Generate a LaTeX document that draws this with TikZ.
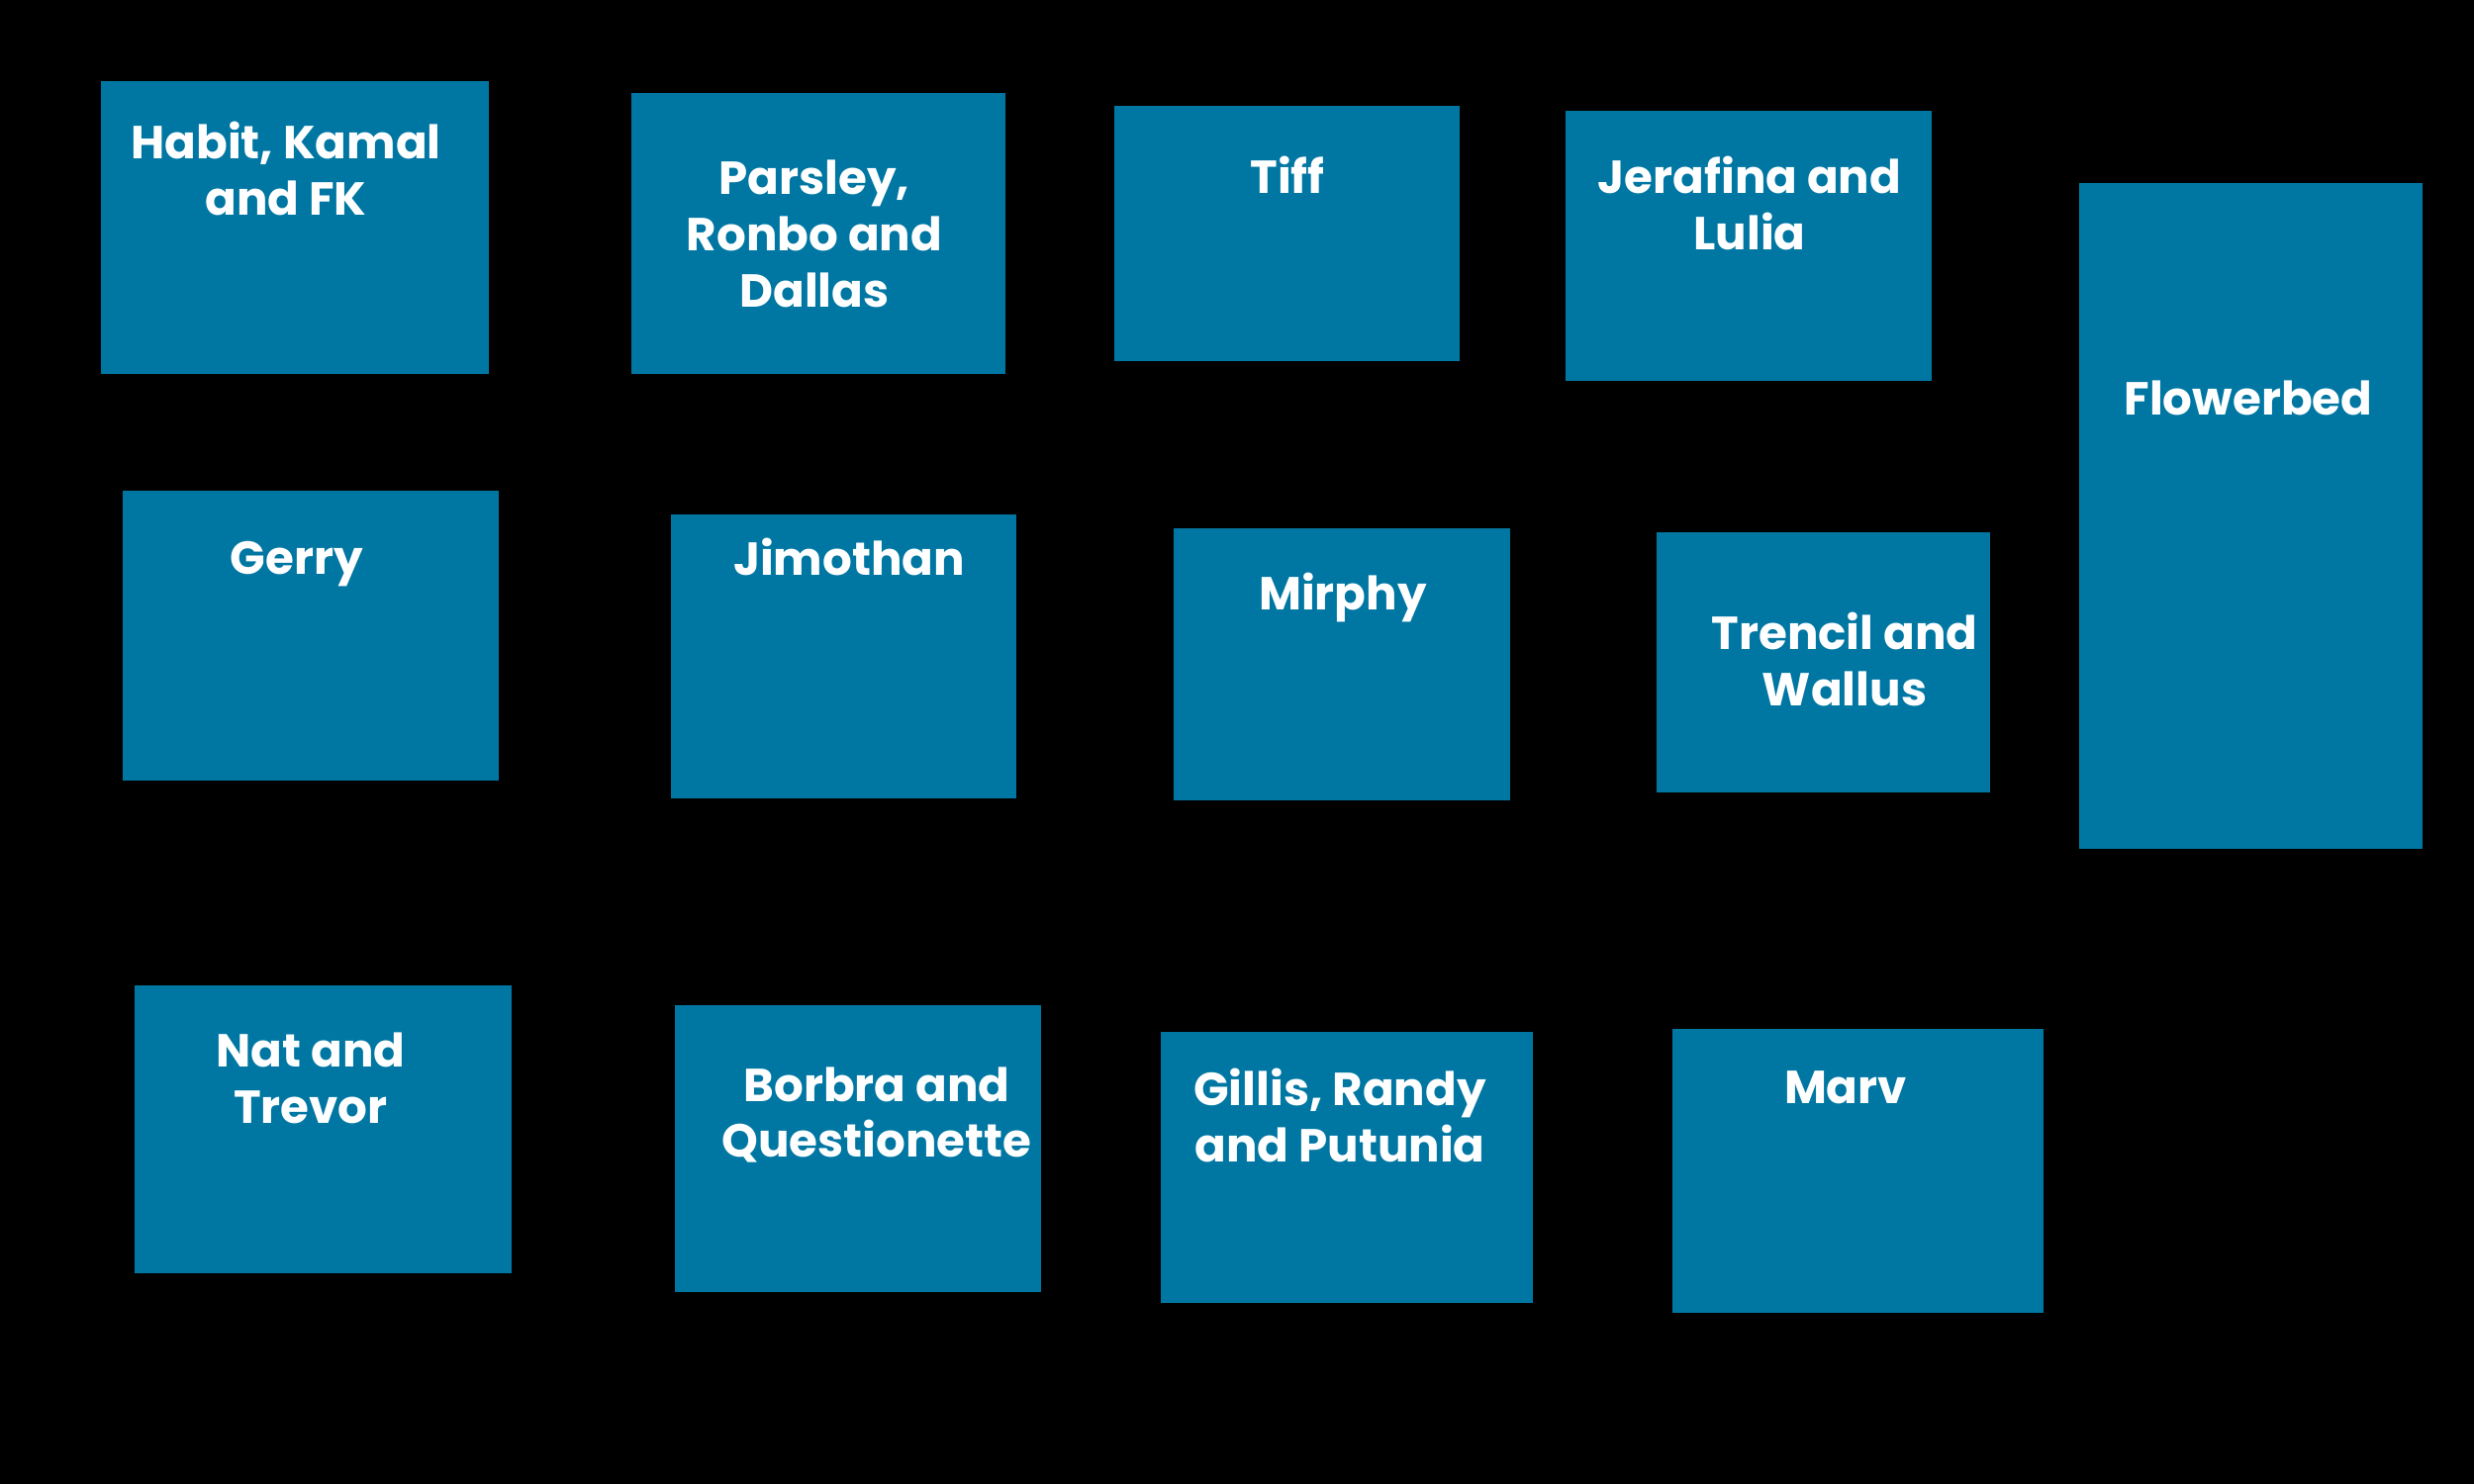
\documentclass[tikz,border=0pt]{standalone}
\usepackage{fontspec}
\setmainfont{Poppins}
\begin{document}
\begin{tikzpicture}[x=0.01cm,y=-0.01cm,
  plot/.style={fill=bedblue, draw=none, inner sep=0pt, outer sep=0pt},
  tag/.style={text=white, font=\fontsize{13.3}{16.2}\selectfont\bfseries, align=center, inner sep=0pt}]
\definecolor{bedblue}{RGB}{0,119,163}
% black ground, 2500 x 1500 units
\fill[black] (0,0) rectangle (2500,1500);
\useasboundingbox (0,0) rectangle (2500,1500);

% plots: row one
\node[plot, minimum width=3.92cm, minimum height=2.96cm] (habit) at (298,230) {};
\node[plot, minimum width=3.78cm, minimum height=2.84cm] (parsley) at (827,236) {};
\node[plot, minimum width=3.49cm, minimum height=2.58cm] (tiff) at (1300.5,236) {};
\node[plot, minimum width=3.70cm, minimum height=2.73cm] (jerafina) at (1767,248.5) {};
\node[plot, minimum width=3.47cm, minimum height=6.73cm] (flowerbed) at (2274.5,521.5) {};
% row two
\node[plot, minimum width=3.80cm, minimum height=2.93cm] (gerry) at (314,642.5) {};
\node[plot, minimum width=3.49cm, minimum height=2.87cm] (jimothan) at (852.5,663.5) {};
\node[plot, minimum width=3.40cm, minimum height=2.75cm] (mirphy) at (1356,671.5) {};
\node[plot, minimum width=3.37cm, minimum height=2.63cm] (trencil) at (1842.5,669.5) {};
% row three
\node[plot, minimum width=3.81cm, minimum height=2.91cm] (nat) at (326.5,1141.5) {};
\node[plot, minimum width=3.70cm, minimum height=2.90cm] (borbra) at (867,1161) {};
\node[plot, minimum width=3.76cm, minimum height=2.74cm] (gillis) at (1361,1180) {};
\node[plot, minimum width=3.75cm, minimum height=2.87cm] (marv) at (1877.5,1183.5) {};

% names
\node[tag] (habitT) at (289,170) {Habit, Kamal\\and FK};
\node[tag] (parsleyT) at (823,236) {Parsley,\\Ronbo and\\Dallas};
\node[tag] (tiffT) at (1301,177) {Tiff};
\node[tag] (jerafinaT) at (1768,205) {Jerafina and\\Lulia};
\node[tag] (flowerbedT) at (2272,402) {Flowerbed};
\node[tag] (gerryT) at (300,570) {Gerry};
\node[tag] (jimothanT) at (858,563) {Jimothan};
\node[tag] (mirphyT) at (1357,604) {Mirphy};
\node[tag] (trencilT) at (1864,666) {Trencil and\\Wallus};
\node[tag] (natT) at (314,1090) {Nat and\\Trevor};
\node[tag] (borbraT) at (886,1127) {Borbra and\\Questionette};
\node[tag] (gillisT) at (1354,1127) {Gillis, Randy\\and Putunia};
\node[tag] (marvT) at (1865,1099) {Marv};
\end{tikzpicture}
\end{document}
